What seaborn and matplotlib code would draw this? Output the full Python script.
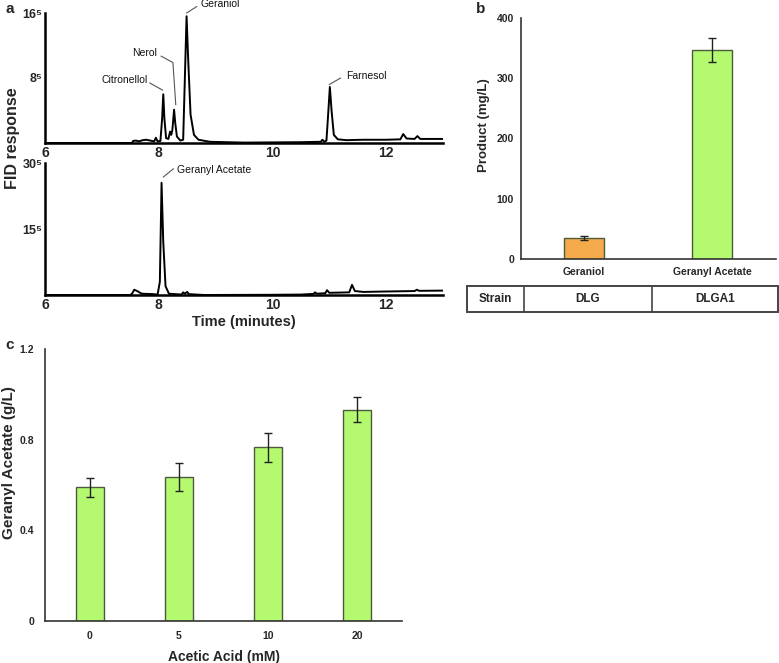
import matplotlib
matplotlib.use("Agg")
import matplotlib.pyplot as plt
import seaborn as sns
import pandas as pd
from matplotlib.patches import Rectangle

sns.set_theme(style="white")
plt.rcParams['font.family'] = ['Liberation Sans', 'DejaVu Sans']

# ---------------- data ----------------
# Panel a (top): chromatogram of DLG strain, signal in units of 1e5
top_time = [6.0, 7.53, 7.55, 7.60, 7.65, 7.72, 7.78, 7.85, 7.92, 7.95, 7.98, 8.03,
            8.06, 8.08, 8.10, 8.13, 8.17, 8.20, 8.22, 8.24, 8.27, 8.29, 8.32, 8.38,
            8.43, 8.46, 8.49, 8.52, 8.56, 8.62, 8.70, 8.90, 9.50, 10.50, 10.85,
            10.88, 10.91, 10.95, 10.98, 11.01, 11.04, 11.08, 11.15, 11.30, 11.60,
            12.00, 12.25, 12.30, 12.36, 12.50, 12.55, 12.60, 13.0]
top_signal = [0.0, 0.0, 0.25, 0.3, 0.2, 0.35, 0.4, 0.3, 0.2, 0.65, 0.2, 0.25,
              3.0, 6.0, 3.0, 0.6, 0.5, 1.4, 1.0, 1.6, 4.1, 2.5, 0.8, 0.3,
              0.4, 8.0, 15.6, 10.0, 3.5, 1.0, 0.4, 0.15, 0.05, 0.1, 0.15,
              0.4, 0.15, 0.3, 3.5, 6.9, 4.0, 1.0, 0.45, 0.35, 0.4,
              0.4, 0.45, 1.1, 0.55, 0.5, 0.85, 0.5, 0.5]
# Panel a (bottom): chromatogram of DLGA1 strain
bot_time = [6.0, 7.50, 7.53, 7.57, 7.62, 7.70, 7.90, 7.98, 8.02, 8.05, 8.08, 8.12,
            8.18, 8.40, 8.43, 8.46, 8.50, 8.53, 8.80, 10.0, 10.50, 10.72, 10.75,
            10.78, 10.93, 10.96, 11.00, 11.35, 11.40, 11.45, 11.60, 12.0, 12.50,
            12.54, 12.58, 13.0]
bot_signal = [0.0, 0.0, 0.3, 1.2, 0.9, 0.3, 0.2, 0.1, 3.0, 25.5, 12.0, 2.0,
              0.3, 0.1, 0.6, 0.3, 0.7, 0.2, 0.0, 0.05, 0.1, 0.25, 0.6,
              0.3, 0.4, 1.1, 0.5, 0.6, 2.3, 0.9, 0.7, 0.8, 0.9,
              1.2, 0.95, 1.0]
time_ticks = [6, 8, 10, 12]
top_yticks = [8, 16]
top_yticklabels = ['8⁵', '16⁵']
bot_yticks = [15, 30]
bot_yticklabels = ['15⁵', '30⁵']

# Panel b
b_products = ['Geraniol', 'Geranyl Acetate']
b_values = [35, 347]
b_errors = [3, 20]
b_colors = ['#F5AB4B', '#B4F96F']
b_yticks = [0, 100, 200, 300, 400]
strain_header = 'Strain'
strains = ['DLG', 'DLGA1']

# Panel c
c_acid = ['0', '5', '10', '20']
c_values = [0.589, 0.637, 0.766, 0.933]
c_errors = [0.042, 0.062, 0.063, 0.055]
c_yticks = [0, 0.4, 0.8, 1.2]
c_yticklabels = ['0', '0.4', '0.8', '1.2']

# ---------------- figure ----------------
W, H = 779, 663
fig = plt.figure(figsize=(W / 100, H / 100), dpi=100)


def frac(x0, y0, x1, y1):
    return [x0 / W, 1 - y1 / H, (x1 - x0) / W, (y1 - y0) / H]


bold = dict(fontweight='bold')
axis_col = '#222222'


def style_axes(ax, lw=1.6, col=axis_col):
    for s in ['top', 'right']:
        ax.spines[s].set_visible(False)
    for s in ['left', 'bottom']:
        ax.spines[s].set_color(col)
        ax.spines[s].set_linewidth(lw)
    ax.tick_params(length=0)
    ax.grid(False)
    ax.set_facecolor('none')


# ---- panel a top ----
ax1 = fig.add_axes(frac(45, 13, 443, 143))
sns.lineplot(x=top_time, y=top_signal, ax=ax1, color='black', lw=1.4, sort=False)
ax1.set_xlim(6, 13)
ax1.set_ylim(0, 16)
ax1.set_xticks(time_ticks)
ax1.set_xticklabels([str(t) for t in time_ticks], fontsize=10, **bold)
ax1.set_yticks(top_yticks)
ax1.set_yticklabels(top_yticklabels, fontsize=9, **bold)
ax1.tick_params(axis='x', pad=2)
ax1.tick_params(axis='y', pad=2)
style_axes(ax1, lw=1.8, col='black')

lead = dict(color='#555555', lw=0.8, clip_on=False)
ann = dict(fontsize=7.5, color='#111111')
ax1.plot([8.49, 8.67], [16.0, 16.8], **lead)
ax1.text(8.74, 17.1, 'Geraniol', ha='left', va='center', **ann)
ax1.plot([8.04, 8.25, 8.30], [10.7, 9.9, 4.7], **lead)
ax1.text(7.97, 11.1, 'Nerol', ha='right', va='center', **ann)
ax1.plot([7.84, 8.07], [7.4, 6.5], **lead)
ax1.text(7.80, 7.75, 'Citronellol', ha='right', va='center', **ann)
ax1.plot([11.0, 11.2], [7.2, 8.0], **lead)
ax1.text(11.3, 8.2, 'Farnesol', ha='left', va='center', **ann)

# ---- panel a bottom ----
ax2 = fig.add_axes(frac(45, 163, 443, 295))
sns.lineplot(x=bot_time, y=bot_signal, ax=ax2, color='black', lw=1.4, sort=False)
ax2.set_xlim(6, 13)
ax2.set_ylim(0, 30)
ax2.set_xticks(time_ticks)
ax2.set_xticklabels([str(t) for t in time_ticks], fontsize=10, **bold)
ax2.set_yticks(bot_yticks)
ax2.set_yticklabels(bot_yticklabels, fontsize=9, **bold)
ax2.tick_params(axis='x', pad=2)
ax2.tick_params(axis='y', pad=2)
style_axes(ax2, lw=1.8, col='black')
ax2.plot([8.08, 8.26], [26.8, 28.7], **lead)
ax2.text(8.33, 28.4, 'Geranyl Acetate', ha='left', va='center', **ann)
ax2.set_xlabel('Time (minutes)', fontsize=10.5, labelpad=2, **bold)

fig.text(13 / W, 1 - 138 / H, 'FID response', rotation=90, ha='center', va='center',
         fontsize=11.5, **bold)

# ---- panel b ----
ax3 = fig.add_axes(frac(521, 18, 776, 259))
dfb = pd.DataFrame({'product': b_products, 'value': b_values})
sns.barplot(data=dfb, x='product', y='value', hue='product', palette=b_colors,
            width=0.31, edgecolor='#4d5a3d', linewidth=1.0, errorbar=None,
            legend=False, ax=ax3, saturation=1)
ax3.errorbar(range(len(b_values)), b_values, yerr=b_errors, fmt='none',
             ecolor='#222222', elinewidth=1.0, capsize=3, capthick=1.0)
ax3.set_xlim(-0.49, 1.5)
ax3.set_ylim(0, 400)
ax3.set_yticks(b_yticks)
ax3.set_yticklabels([str(v) for v in b_yticks], fontsize=7.5, **bold)
for lab in ax3.get_xticklabels():
    lab.set_fontsize(7.5)
    lab.set_fontweight('bold')
ax3.set_xlabel('')
ax3.set_ylabel('')
ax3.tick_params(axis='x', pad=6)
ax3.tick_params(axis='y', pad=5)
style_axes(ax3, lw=1.2, col='#333333')
fig.text(484 / W, 1 - 125 / H, 'Product (mg/L)', rotation=90, ha='center', va='center',
         fontsize=9.5, **bold)

# table under panel b
axt = fig.add_axes(frac(467, 286, 778, 312))
axt.set_xlim(0, 311)
axt.set_ylim(0, 26)
axt.axis('off')
axt.add_patch(Rectangle((0, 0), 311, 26, fill=False, ec='#444444', lw=1.4, clip_on=False))
axt.plot([57, 57], [0, 26], color='#444444', lw=1.2)
axt.plot([185, 185], [0, 26], color='#444444', lw=1.2)
axt.text(28.5, 13, strain_header, ha='center', va='center', fontsize=8.5, **bold)
axt.text(121, 13, strains[0], ha='center', va='center', fontsize=8.5, **bold)
axt.text(248, 13, strains[1], ha='center', va='center', fontsize=8.5, **bold)

# ---- panel c ----
ax4 = fig.add_axes(frac(45, 349, 402, 621))
dfc = pd.DataFrame({'acid': c_acid, 'value': c_values})
sns.barplot(data=dfc, x='acid', y='value', color='#B4F96F', width=0.315,
            edgecolor='#4d5a3d', linewidth=1.0, errorbar=None, ax=ax4, saturation=1)
ax4.errorbar(range(len(c_values)), c_values, yerr=c_errors, fmt='none',
             ecolor='#222222', elinewidth=1.0, capsize=3, capthick=1.0)
ax4.set_xlim(-0.5, 3.5)
ax4.set_ylim(0, 1.2)
ax4.set_yticks(c_yticks)
ax4.set_yticklabels(c_yticklabels, fontsize=7.5, **bold)
for lab in ax4.get_xticklabels():
    lab.set_fontsize(7.5)
    lab.set_fontweight('bold')
ax4.set_xlabel('Acetic Acid (mM)', fontsize=10, labelpad=7, **bold)
ax4.set_ylabel('')
ax4.tick_params(axis='x', pad=7)
ax4.tick_params(axis='y', pad=8)
style_axes(ax4, lw=1.2, col='#333333')
fig.text(9 / W, 1 - 463 / H, 'Geranyl Acetate (g/L)', rotation=90, ha='center',
         va='center', fontsize=11, **bold)

# panel letters
fig.text(5 / W, 1 - 9 / H, 'a', fontsize=11, ha='left', va='center', **bold)
fig.text(476 / W, 1 - 9 / H, 'b', fontsize=11, ha='left', va='center', **bold)
fig.text(5 / W, 1 - 345 / H, 'c', fontsize=11, ha='left', va='center', **bold)

fig.savefig('out.png', dpi=100, facecolor='white')
